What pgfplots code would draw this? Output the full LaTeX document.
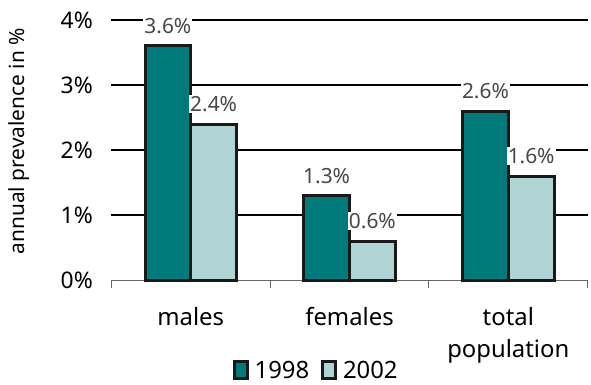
\documentclass[border=0pt]{standalone}
\usepackage{pgfplots}
\pgfplotsset{compat=1.18}
\usepackage{fontspec}
\setmainfont{Noto Sans}
\definecolor{dark}{HTML}{007A7A}
\definecolor{light}{HTML}{B0D4D4}
\newcommand{\labelfont}{\fontsize{24}{32}\selectfont}
\begin{document}
\begin{tikzpicture}
\begin{axis}[
  at={(0pt,0pt)}, anchor=south west,
  scale only axis, width=479pt, height=262pt,
  ymin=0, ymax=4,
  ytick={1,2,3,4}, yticklabels={1\%,2\%,3\%,4\%},
  extra y ticks={0}, extra y tick labels={0\%},
  extra y tick style={grid=none},
  ymajorgrids, grid style={black, line width=1.8pt},
  xmin=-0.5, xmax=2.5,
  xtick={0,1,2}, xticklabels={males,females,total\\population},
  extra x ticks={-0.5,0.5,1.5,2.5}, extra x tick labels={},
  extra x tick style={grid=none, tick align=outside, major tick length=8pt,
    tick style={draw=gray!80!black, line width=0.9pt}},
  axis lines=left,
  x axis line style={-, draw=gray!80!black, line width=0.9pt},
  y axis line style={draw=none},
  tick style={draw=none},
  tick label style={font=\labelfont},
  yticklabel style={xshift=-13pt, font=\fontsize{23}{26}\selectfont},
  xticklabel style={align=center, yshift=-19pt},
  ylabel={annual prevalence in \%},
  ylabel style={font=\fontsize{21}{24}\selectfont, at={(axis description cs:-0.194,0.534)}, anchor=center},
  ybar=0pt, bar width=46pt,
  clip=false,
  /pgf/number format/assume math mode=true,
  nodes near coords={\pgfmathprintnumber[fixed,precision=1,fixed zerofill]{\pgfplotspointmeta}\%},
  nodes near coords style={font=\fontsize{21}{24}\selectfont, text=black!72, fill=white, inner sep=1pt, anchor=south, yshift=10pt},
  legend style={at={(0.43,-0.347)}, anchor=center, draw=none, legend columns=2,
    font=\labelfont, /tikz/every even column/.append style={column sep=10pt}},
  legend image code/.code={\draw[#1] (0pt,-8pt) rectangle (13pt,9pt); \path (17pt,0pt);},
]
\addplot[fill=dark, draw=black!90, line width=3pt] coordinates {(0,3.6) (1,1.3) (2,2.6)};
\addplot[fill=light, draw=black!90, line width=3pt] coordinates {(0,2.4) (1,0.6) (2,1.6)};
\legend{1998,2002}
\end{axis}
\useasboundingbox (-112pt,-103pt) rectangle (479pt,282pt);
\end{tikzpicture}
\end{document}
